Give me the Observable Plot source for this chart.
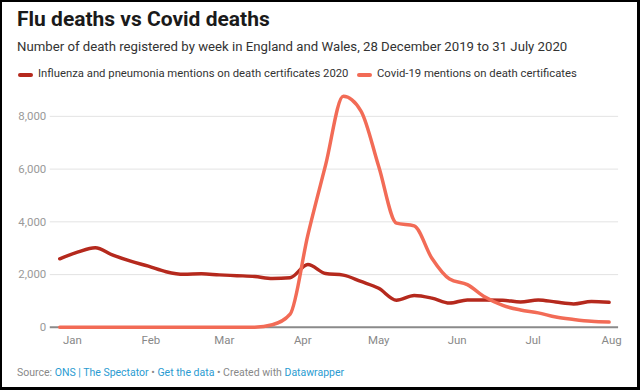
<!DOCTYPE html>
<html><head><meta charset="utf-8">
<script src="https://cdn.jsdelivr.net/npm/d3@7"></script>
<script src="https://cdn.jsdelivr.net/npm/@observablehq/plot@0.6"></script>
<style>
html,body{margin:0;padding:0;background:#fff;}
#frame{position:relative;width:640px;height:390px;box-sizing:border-box;border-style:solid;border-color:#000;border-width:2px 3px 3px 2px;overflow:hidden;font-family:Roboto,sans-serif;background:#fff;}
.abs{position:absolute;white-space:nowrap;line-height:1;}
#title{left:15px;top:7px;font-size:21px;font-weight:700;color:#1a1a1a;}
#subtitle{left:15px;top:38px;font-size:13.2px;color:#333;}
.sw{position:absolute;width:15px;height:4px;border-radius:2px;}
.lg{font-size:11.3px;color:#333;top:66px;}
#footer{left:15px;top:366px;font-size:10.5px;color:#888;}
#footer .l{color:#2a9bd1;}
#chart{position:absolute;left:-2px;top:83px;}
</style></head>
<body>
<div id="frame">
  <div id="title" class="abs">Flu deaths vs Covid deaths</div>
  <div id="subtitle" class="abs">Number of death registered by week in England and Wales, 28 December 2019 to 31 July 2020</div>
  <div class="sw" id="sw1" style="left:16px;top:70.5px;"></div>
  <div class="abs lg" id="lg1" style="left:36px;"></div>
  <div class="sw" id="sw2" style="left:355px;top:70.5px;"></div>
  <div class="abs lg" id="lg2" style="left:375px;"></div>
  <div id="chart"></div>
  <div id="footer" class="abs">Source: <span class="l">ONS | The Spectator</span> • <span class="l">Get the data</span> • Created with <span class="l">Datawrapper</span></div>
</div>
<script>
const seriesNames = ["Influenza and pneumonia mentions on death certificates 2020", "Covid-19 mentions on death certificates"];
const seriesColors = ["#b5291d", "#f26b56"];
const weekEnding = ["2019-12-27","2020-01-03","2020-01-10","2020-01-17","2020-01-24","2020-01-31",
  "2020-02-07","2020-02-14","2020-02-21","2020-02-28","2020-03-06","2020-03-13","2020-03-20","2020-03-27",
  "2020-04-03","2020-04-10","2020-04-17","2020-04-24","2020-05-01","2020-05-08","2020-05-15","2020-05-22",
  "2020-05-29","2020-06-05","2020-06-12","2020-06-19","2020-06-26","2020-07-03","2020-07-10","2020-07-17",
  "2020-07-24","2020-07-31"];
const fluDeaths = [2600,2850,3020,2740,2510,2320,2110,2010,2030,1990,1960,1930,1850,1880,
  2380,2040,1980,1740,1480,1030,1210,1110,920,1040,1040,1030,965,1040,960,890,980,950];
const covidDeaths = [0,0,0,0,0,0,0,0,0,0,0,5,100,500,
  3500,6150,8760,8200,6100,3950,3850,2620,1830,1620,1150,830,660,550,390,300,230,200];
const yTicks = [0, 2000, 4000, 6000, 8000];
const monthTicks = ["2020-01-01","2020-02-01","2020-03-01","2020-04-01","2020-05-01","2020-06-01","2020-07-01","2020-08-01"];

document.getElementById("lg1").textContent = seriesNames[0];
document.getElementById("lg2").textContent = seriesNames[1];
document.getElementById("sw1").style.background = seriesColors[0];
document.getElementById("sw2").style.background = seriesColors[1];

const rows = weekEnding.map((d, i) => ({date: new Date(d), flu: fluDeaths[i], covid: covidDeaths[i]}));

const chart = Plot.plot({
  width: 640,
  height: 270,
  marginLeft: 50,
  marginRight: 19,
  marginTop: 31,
  marginBottom: 27,
  style: {fontFamily: "Roboto, sans-serif", fontSize: "11.5px", background: "transparent", overflow: "visible"},
  x: {type: "utc", domain: [new Date(Date.UTC(2019,11,23,6)), new Date(Date.UTC(2020,7,3,18))]},
  y: {domain: [0, 8000]},
  marks: [
    Plot.ruleY(yTicks.filter(d => d > 0), {stroke: "#e3e3e3", strokeWidth: 1}),
    Plot.ruleY([0], {stroke: "#8a8a8a", strokeWidth: 2}),
    Plot.axisY({ticks: yTicks, tickSize: 0, tickPadding: 4, tickFormat: d3.format(","), fill: "#9a9a9a", label: null}),
    Plot.axisX({ticks: monthTicks.map(d => new Date(d)), tickFormat: d3.utcFormat("%b"), tickSize: 0, tickPadding: 9, fill: "#888", label: null}),
    Plot.line(rows, {x: "date", y: "flu", stroke: seriesColors[0], strokeWidth: 3.5, curve: "monotone-x", strokeLinecap: "round", strokeLinejoin: "round"}),
    Plot.line(rows, {x: "date", y: "covid", stroke: seriesColors[1], strokeWidth: 3.5, curve: "monotone-x", strokeLinecap: "round", strokeLinejoin: "round"})
  ]
});
document.getElementById("chart").appendChild(chart);
</script>
</body></html>
